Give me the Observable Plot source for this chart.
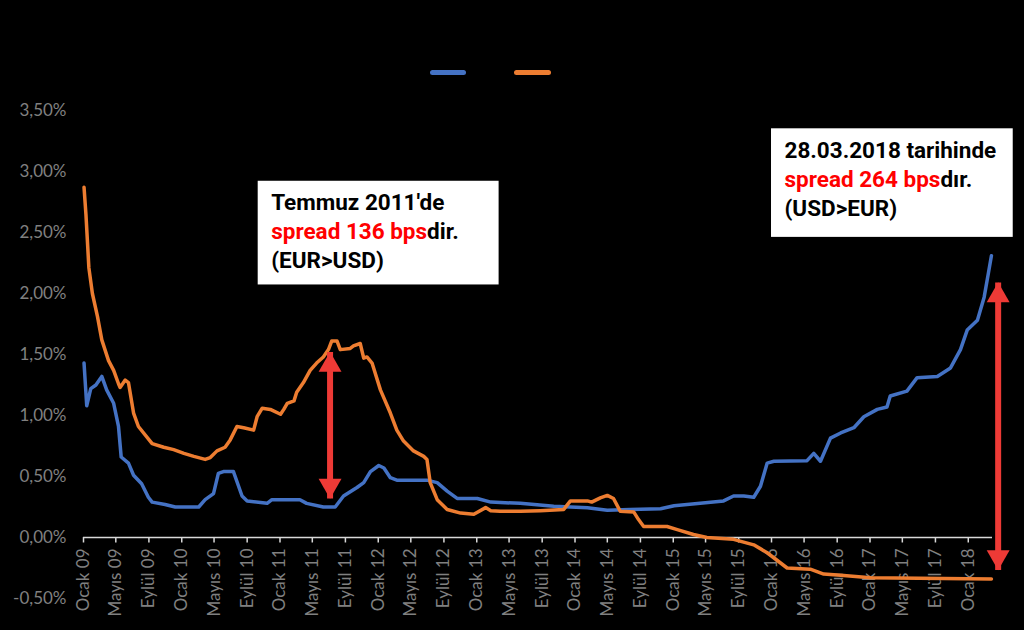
<!DOCTYPE html>
<html><head><meta charset="utf-8">
<script src="https://cdn.jsdelivr.net/npm/d3@7"></script>
<script src="https://cdn.jsdelivr.net/npm/@observablehq/plot@0.6"></script>
<style>
html,body{margin:0;padding:0;background:#000;overflow:hidden;}
#legend{height:90px;position:relative;width:1024px;}
.sw{position:absolute;top:70px;height:5px;border-radius:3px;}
</style></head><body>
<div id="legend"></div>
<div id="chart"></div>
<script>
// ---- data ----
const seriesNames = ["USD", "EUR"];
const seriesColors = ["#4472C4", "#ED7D31"];

const usdDates = ["2009-01-03","2009-01-13","2009-01-28","2009-02-16","2009-03-10","2009-03-28","2009-04-23","2009-05-11","2009-05-21","2009-06-17","2009-07-06","2009-08-05","2009-08-30","2009-09-13","2009-10-31","2009-12-08","2010-03-05","2010-03-29","2010-04-29","2010-05-17","2010-06-05","2010-07-12","2010-08-13","2010-09-01","2010-11-14","2010-12-02","2011-03-16","2011-04-10","2011-06-11","2011-07-25","2011-08-25","2011-10-14","2011-11-08","2011-12-03","2012-01-03","2012-01-22","2012-02-15","2012-03-10","2012-06-30","2012-08-07","2012-09-13","2012-10-20","2013-01-03","2013-02-22","2013-06-12","2013-10-14","2014-02-16","2014-05-01","2014-07-25","2014-11-15","2015-01-04","2015-04-11","2015-07-07","2015-08-13","2015-09-20","2015-10-27","2015-11-21","2015-12-16","2016-01-10","2016-05-12","2016-06-06","2016-07-01","2016-08-07","2016-09-14","2016-11-02","2016-12-09","2017-01-28","2017-03-05","2017-03-17","2017-05-18","2017-06-25","2017-09-08","2017-10-27","2017-12-03","2017-12-28","2018-02-04","2018-03-01","2018-03-17","2018-03-28"];
const usdValues = [1.43,1.08,1.22,1.25,1.32,1.21,1.10,0.91,0.66,0.61,0.51,0.44,0.33,0.29,0.27,0.25,0.25,0.31,0.36,0.525,0.54,0.54,0.34,0.30,0.28,0.31,0.31,0.28,0.25,0.25,0.34,0.41,0.45,0.54,0.59,0.57,0.49,0.47,0.47,0.45,0.38,0.32,0.32,0.29,0.28,0.256,0.243,0.223,0.23,0.235,0.26,0.28,0.30,0.34,0.34,0.33,0.42,0.61,0.625,0.63,0.69,0.625,0.815,0.857,0.90,0.99,1.05,1.07,1.16,1.20,1.31,1.32,1.39,1.54,1.70,1.78,1.97,2.17,2.31];

const eurDates = ["2009-01-03","2009-01-10","2009-01-21","2009-02-03","2009-02-22","2009-03-10","2009-04-04","2009-04-23","2009-05-11","2009-05-17","2009-06-05","2009-06-17","2009-07-06","2009-07-24","2009-09-13","2009-10-26","2009-12-02","2010-01-09","2010-02-15","2010-03-29","2010-04-17","2010-05-12","2010-06-11","2010-06-30","2010-07-25","2010-08-19","2010-09-25","2010-10-08","2010-10-27","2010-11-26","2011-01-03","2011-01-15","2011-01-28","2011-02-22","2011-03-04","2011-03-29","2011-04-23","2011-05-17","2011-06-11","2011-06-30","2011-07-12","2011-08-01","2011-08-13","2011-09-19","2011-10-01","2011-10-26","2011-11-08","2011-11-20","2011-12-09","2012-01-09","2012-02-15","2012-03-10","2012-04-04","2012-05-11","2012-06-18","2012-06-30","2012-07-12","2012-08-07","2012-09-13","2012-11-02","2012-12-21","2013-02-03","2013-02-22","2013-03-29","2013-06-12","2013-08-25","2013-11-20","2013-12-15","2014-02-16","2014-03-04","2014-04-05","2014-05-01","2014-05-24","2014-06-18","2014-08-07","2014-08-25","2014-09-13","2014-12-09","2015-01-16","2015-03-17","2015-05-06","2015-08-13","2015-10-27","2015-12-16","2016-02-28","2016-05-24","2016-07-13","2016-09-14","2017-01-03","2018-03-28"];
const eurValues = [2.87,2.65,2.21,2.00,1.81,1.62,1.45,1.37,1.26,1.23,1.29,1.27,1.02,0.91,0.77,0.74,0.72,0.69,0.665,0.64,0.655,0.71,0.74,0.80,0.91,0.90,0.88,0.99,1.06,1.05,1.01,1.05,1.10,1.12,1.19,1.27,1.37,1.43,1.48,1.54,1.61,1.61,1.54,1.55,1.57,1.59,1.47,1.48,1.43,1.21,1.02,0.88,0.79,0.71,0.665,0.64,0.45,0.31,0.23,0.20,0.19,0.245,0.22,0.215,0.215,0.22,0.23,0.30,0.30,0.29,0.325,0.345,0.32,0.215,0.21,0.147,0.09,0.09,0.065,0.025,0.0,-0.015,-0.06,-0.125,-0.25,-0.26,-0.30,-0.31,-0.33,-0.34];

const tickMonthNames = ["Ocak", "Mayıs", "Eylül"];
const yTicks = [-0.5, 0, 0.5, 1, 1.5, 2, 2.5, 3, 3.5];

// annotation boxes (box corners in date/value units)
const noteX1 = ["2010-10-12", "2016-01-01"];
const noteX2 = ["2013-03-25", "2018-06-17"];
const noteTop = [2.92, 3.35];
const noteBottom = [2.07, 2.46];
const noteLine1 = ["Temmuz 2011'de", "28.03.2018 tarihinde"];
const noteRed = ["spread 136 bps", "spread 264 bps"];
const noteSuffix = ["dir.", "dır."];
const noteLine3 = ["(EUR>USD)", "(USD>EUR)"];

// double arrows
const arrowDates = ["2011-07-06", "2018-04-22"];
const arrowTop = [1.52, 2.09];
const arrowBottom = [0.32, -0.266];

// ---- build ----
const parse = s => new Date(s + "T00:00:00Z");
const usd = usdDates.map((d, i) => ({date: parse(d), value: usdValues[i]}));
const eur = eurDates.map((d, i) => ({date: parse(d), value: eurValues[i]}));
const notes = noteX1.map((d, i) => ({x1: parse(d), x2: parse(noteX2[i]), top: noteTop[i], bottom: noteBottom[i],
  l1: noteLine1[i], red: noteRed[i], suffix: noteSuffix[i], l3: noteLine3[i]}));
const arrows = arrowDates.map((d, i) => ({date: parse(d), top: arrowTop[i], bottom: arrowBottom[i]}));

const tickDates = d3.utcMonth.every(4).range(parse("2009-01-01"), parse("2018-02-01"));
const tickLabel = d => tickMonthNames[d.getUTCMonth() / 4] + " " + String(d.getUTCFullYear()).slice(2);

const noteFontFamily = "Roboto";
const noteFontSize = 22.5;
const ctx = document.createElement("canvas").getContext("2d");
ctx.font = `bold ${noteFontSize}px ${noteFontFamily}`;
const measure = s => ctx.measureText(s).width;

// legend
const leg = document.getElementById("legend");
[[430, 36], [514, 37]].forEach(([left, w], i) => {
  const s = document.createElement("div");
  s.className = "sw";
  s.style.left = left + "px";
  s.style.width = w + "px";
  s.style.background = seriesColors[i];
  s.title = seriesNames[i];
  leg.appendChild(s);
});

const red = "#ee3a36";
const textCommon = {fontFamily: noteFontFamily, fontWeight: "bold", fontSize: noteFontSize, textAnchor: "start", lineAnchor: "middle"};

const chart = Plot.plot({
  width: 1024,
  height: 540,
  marginLeft: 83,
  marginRight: 32,
  marginTop: 20,
  marginBottom: 32,
  style: {background: "#000", color: "#808080", fontFamily: "Lato", fontSize: "17px"},
  x: {type: "utc", domain: [parse("2009-01-01"), parse("2018-04-01")], axis: null},
  y: {domain: [-0.5, 3.5], axis: null},
  marks: [
    Plot.axisY({ticks: yTicks, tickSize: 0, tickPadding: 17, fill: "#808080", fontSize: 17,
      tickFormat: d => d.toFixed(2).replace(".", ",") + "%"}),
    Plot.ruleY([0], {stroke: "#d9d9d9", strokeWidth: 1.5}),
    Plot.ruleX(tickDates, {x: d => d, y1: 0, y2: -0.045, stroke: "#d9d9d9", strokeWidth: 1.5}),
    Plot.text(tickDates, {x: d => d, y: 0, text: tickLabel, rotate: -90, textAnchor: "end", dy: 11,
      fill: "#808080", fontSize: 17}),
    Plot.line(usd, {x: "date", y: "value", stroke: seriesColors[0], strokeWidth: 3.5, strokeLinejoin: "round"}),
    Plot.line(eur, {x: "date", y: "value", stroke: seriesColors[1], strokeWidth: 3.5, strokeLinejoin: "round"}),
    // annotation boxes
    Plot.rect(notes, {x1: "x1", x2: "x2", y1: "bottom", y2: "top", fill: "#fff"}),
    Plot.text(notes, {x: "x1", y: "top", text: "l1", dx: 13, dy: 22, fill: "#000", ...textCommon}),
    Plot.text(notes, {x: "x1", y: "top", text: "red", dx: 13, dy: 51, fill: "#ff0000", ...textCommon}),
    ...notes.map(n => Plot.text([n], {x: "x1", y: "top", text: "suffix", dx: 13 + measure(n.red), dy: 51, fill: "#000", ...textCommon})),
    Plot.text(notes, {x: "x1", y: "top", text: "l3", dx: 13, dy: 80, fill: "#000", ...textCommon}),
    // arrows
    Plot.link(arrows, {x1: "date", x2: "date", y1: "top", y2: "bottom", stroke: red, strokeWidth: 6}),
    Plot.dot(arrows, {x: "date", y: "top", symbol: "triangle", r: 8.5, fill: red, stroke: "none", dy: 13}),
    Plot.dot(arrows, {x: "date", y: "bottom", symbol: "triangle", r: 8.5, fill: red, stroke: "none", rotate: 180, dy: -13})
  ]
});
document.getElementById("chart").appendChild(chart);
</script></body></html>
